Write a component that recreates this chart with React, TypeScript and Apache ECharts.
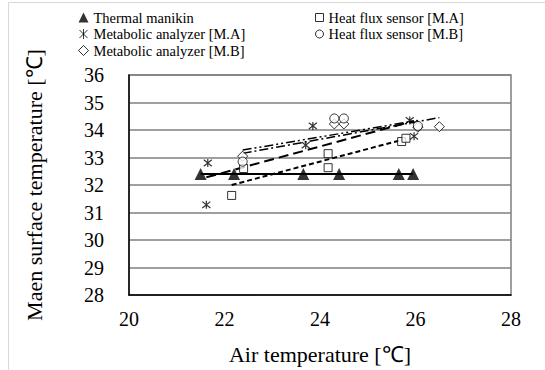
import React, { useEffect, useRef } from 'react';
import * as echarts from 'echarts';

// ---- Data ----
const thermalX = [21.5, 22.2, 23.65, 24.4, 25.65, 25.95];
const thermalY = [32.4, 32.4, 32.4, 32.4, 32.4, 32.4];

const hfMAX = [22.15, 22.4, 24.17, 24.17, 25.71, 25.8];
const hfMAY = [31.62, 32.6, 33.14, 32.63, 33.58, 33.7];

const metMAX = [21.65, 21.62, 23.7, 23.85, 25.88, 25.97];
const metMAY = [32.8, 31.28, 33.45, 34.15, 34.35, 33.77];

const metMBX = [22.38, 24.3, 24.5, 26.05, 26.5];
const metMBY = [33.05, 34.22, 34.22, 34.1, 34.12];

const hfMBX = [22.38, 24.3, 24.5, 26.05];
const hfMBY = [32.85, 34.42, 34.42, 34.15];

// trend lines (start / end)
const thermalTrendX = [21.5, 25.95];
const thermalTrendY = [32.4, 32.4];
const hfMATrendX = [22.15, 25.8];
const hfMATrendY = [32.0, 33.68];
const metMATrendX = [21.62, 25.97];
const metMATrendY = [32.28, 34.33];
const metMBTrendX = [22.38, 26.5];
const metMBTrendY = [33.15, 34.45];
const hfMBTrendX = [22.38, 26.05];
const hfMBTrendY = [33.27, 34.35];

const seriesNames = [
  'Thermal manikin',
  'Metabolic analyzer [M.A]',
  'Metabolic analyzer [M.B]',
  'Heat flux sensor [M.A]',
  'Heat flux sensor [M.B]',
];

const xTicks = [20, 22, 24, 26, 28];
const yTicks = [28, 29, 30, 31, 32, 33, 34, 35, 36];

const FONT = 'Liberation Serif';
const STAR = 'path://M1,1L9,9M9,1L1,9M5,0L5,10';

const zip = (xs: number[], ys: number[]) => xs.map((x, i) => [x, ys[i]]);

export default function App() {
  const ref = useRef<HTMLDivElement>(null);

  useEffect(() => {
    if (!ref.current) return;
    const chart = echarts.init(ref.current, undefined, { renderer: 'svg' });

    const hollow = { color: '#fff', borderColor: '#000', borderWidth: 1 };
    const trend = (name: string, xs: number[], ys: number[], type: any, width: number) => ({
      name: name + ' trend',
      type: 'line',
      data: zip(xs, ys),
      symbol: 'none',
      silent: true,
      z: 1,
      lineStyle: { color: '#000', width, type },
    });
    const txt = (size: number) => ({ fontFamily: FONT, fontSize: size, color: '#000' });

    const option: any = {
      animation: false,
      backgroundColor: '#fff',
      textStyle: { fontFamily: FONT },
      graphic: [
        {
          type: 'rect',
          shape: { x: 8.5, y: 2.5, width: 600, height: 400 },
          style: { fill: 'none', stroke: '#d9d9d9', lineWidth: 1 },
          silent: true,
          z: -10,
        },
      ],
      legend: [
        {
          orient: 'vertical',
          left: 72,
          top: 5,
          padding: 5,
          itemGap: 1.5,
          itemWidth: 10,
          itemHeight: 10,
          textStyle: txt(14.5),
          itemStyle: { borderWidth: 1 },
          data: [
            { name: seriesNames[0], icon: 'triangle' },
            { name: seriesNames[1], icon: STAR },
            { name: seriesNames[2], icon: 'diamond' },
          ],
        },
        {
          orient: 'vertical',
          left: 310,
          top: 5,
          padding: 5,
          itemGap: 1.5,
          itemWidth: 8,
          itemHeight: 8,
          textStyle: txt(14.5),
          itemStyle: { borderWidth: 1 },
          data: [
            { name: seriesNames[3], icon: 'rect' },
            { name: seriesNames[4], icon: 'circle' },
          ],
        },
      ],
      grid: {
        left: 129,
        right: 34,
        top: 75,
        bottom: 73,
        show: true,
        borderColor: '#7f7f7f',
        borderWidth: 1.5,
      },
      xAxis: {
        type: 'value',
        min: xTicks[0],
        max: xTicks[xTicks.length - 1],
        interval: 2,
        name: 'Air temperature [℃]',
        nameLocation: 'middle',
        nameGap: 48,
        nameTextStyle: txt(22),
        axisLine: { show: true, onZero: false, lineStyle: { color: '#000', width: 1.5 } },
        axisTick: { show: false },
        axisLabel: { margin: 14, ...txt(20) },
        splitLine: { show: false },
      },
      yAxis: {
        type: 'value',
        min: yTicks[0],
        max: yTicks[yTicks.length - 1],
        interval: 1,
        name: 'Maen surface temperature [℃]',
        nameLocation: 'middle',
        nameGap: 84,
        nameTextStyle: txt(22),
        axisLine: { show: true, onZero: false, lineStyle: { color: '#000', width: 1.5 } },
        axisTick: { show: false },
        axisLabel: { margin: 25, ...txt(20) },
        splitLine: { show: true, lineStyle: { color: '#7f7f7f', width: 1.5 } },
      },
      series: [
        {
          name: seriesNames[0],
          type: 'scatter',
          data: zip(thermalX, thermalY),
          symbol: 'triangle',
          symbolSize: 12,
          itemStyle: { color: '#000' },
          z: 3,
        },
        {
          name: seriesNames[1],
          type: 'scatter',
          data: zip(metMAX, metMAY),
          symbol: STAR,
          symbolSize: 8,
          itemStyle: { color: 'none', borderColor: '#000', borderWidth: 1.2 },
          z: 3,
        },
        {
          name: seriesNames[2],
          type: 'scatter',
          data: zip(metMBX, metMBY),
          symbol: 'diamond',
          symbolSize: 10,
          itemStyle: hollow,
          z: 3,
        },
        {
          name: seriesNames[3],
          type: 'scatter',
          data: zip(hfMAX, hfMAY),
          symbol: 'rect',
          symbolSize: 8,
          itemStyle: hollow,
          z: 3,
        },
        {
          name: seriesNames[4],
          type: 'scatter',
          data: zip(hfMBX, hfMBY),
          symbol: 'circle',
          symbolSize: 9,
          itemStyle: hollow,
          z: 3,
        },
        trend(seriesNames[0], thermalTrendX, thermalTrendY, 'solid', 2),
        trend(seriesNames[3], hfMATrendX, hfMATrendY, [5, 3], 2),
        trend(seriesNames[1], metMATrendX, metMATrendY, [10, 5], 2),
        trend(seriesNames[2], metMBTrendX, metMBTrendY, [9, 3, 2, 3], 1.5),
        trend(seriesNames[4], hfMBTrendX, hfMBTrendY, [9, 3, 2, 3, 2, 3], 1.5),
      ],
    };

    chart.setOption(option);
    return () => chart.dispose();
  }, []);

  return (
    <div
      ref={ref}
      style={{ position: 'fixed', left: 0, top: 0, width: 545, height: 370 }}
    />
  );
}
